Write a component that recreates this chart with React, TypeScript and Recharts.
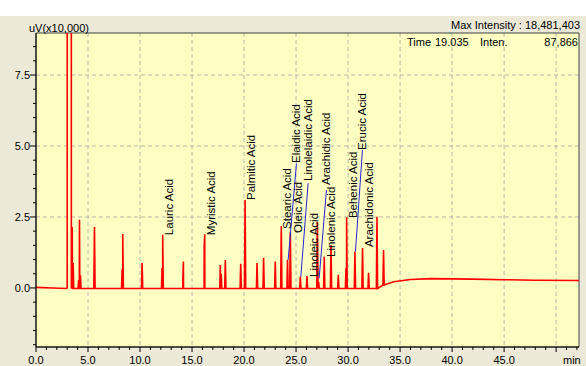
import React from 'react';
import { ComposedChart, Line, Scatter, XAxis, YAxis, CartesianGrid, ReferenceArea, ReferenceLine } from 'recharts';

// retention time (min) and height (uV x10,000) of each peak
const peakTimes = [3.48, 3.57, 4.1, 4.18, 4.27, 5.62, 8.28, 8.34, 10.2, 12.12, 12.18, 14.12, 14.17, 16.17, 16.22, 17.72, 17.8, 18.2, 19.68, 20.1, 21.25, 21.88, 23.0, 23.58, 24.18, 24.45, 25.41, 26.05, 27.05, 27.17, 27.71, 28.36, 29.06, 29.8, 29.86, 30.66, 31.39, 31.97, 32.78, 33.41];
const peakHeights = [2.15, 0.88, 0.28, 2.4, 0.45, 2.15, 0.65, 1.9, 0.88, 0.7, 1.87, 0.35, 0.93, 1.45, 1.89, 0.81, 0.5, 0.98, 0.85, 3.1, 0.88, 1.06, 0.93, 2.17, 0.99, 1.95, 0.4, 0.42, 2.33, 0.22, 1.1, 1.5, 0.46, 0.7, 2.49, 1.28, 1.41, 0.53, 2.51, 1.34];

// solvent front (off scale)
const solventTimes = [3.0, 3.05, 3.34, 3.4];
const solventValues = [0, 160, 160, 0];

// baseline drift
const baseTimes = [0, 1.6, 2.9, 33.6, 34.4, 36.0, 38.0, 40.0, 42.0, 45.0, 48.0, 52.2];
const baseValues = [0.02, 0.0, -0.02, 0.12, 0.22, 0.3, 0.33, 0.32, 0.31, 0.29, 0.27, 0.26];

const labelNames = ['Lauric Acid', 'Myristic Acid', 'Palmitic Acid', 'Stearic Acid', 'Oleic Acid', 'Elaidic Acid', 'Linolelaidic Acid', 'Linoleic Acid', 'Arachidic Acid', 'Linolenic Acid', 'Behenic Acid', 'Erucic Acid', 'Arachidonic Acid'];
const labelTimes = [12.82, 16.81, 20.7, 24.16, 25.17, 24.98, 26.13, 26.75, 27.9, 28.34, 30.5, 31.32, 32.04];
const labelValues = [1.86, 1.86, 3.1, 2.08, 1.94, 4.4, 3.77, 0.39, 3.63, 1.09, 2.46, 4.86, 1.44];

// leader lines [label end, peak end]
const leaders = [
  [[25.04, 4.39], [24.24, 0.99]],
  [[26.16, 3.69], [25.46, 0.4]],
  [[27.92, 3.45], [27.22, 0.34]],
  [[31.38, 4.86], [30.71, 1.28]],
];

const xTicks = Array.from({ length: 53 }, (_, i) => i);
const xLabels = [0, 5, 10, 15, 20, 25, 30, 35, 40, 45];
const yTicks = Array.from({ length: 22 }, (_, i) => -2 + i * 0.5);
const yLabels = [0, 2.5, 5, 7.5];

const X_DOMAIN: [number, number] = [0, 52.2];
const Y_DOMAIN: [number, number] = [-2.08, 8.98];
const PEAK_HALF = 0.06;

const trace: { t: number; v: number }[] = [];
baseTimes.forEach((t, i) => trace.push({ t, v: baseValues[i] }));
solventTimes.forEach((t, i) => trace.push({ t, v: solventValues[i] }));
peakTimes.forEach((t, i) => {
  const floor = t > 33 ? 0.1 : -0.02;
  trace.push({ t: t - PEAK_HALF, v: floor });
  trace.push({ t, v: peakHeights[i] });
  trace.push({ t: t + PEAK_HALF, v: floor });
});
trace.sort((a, b) => a.t - b.t);

const labelPoints = labelNames.map((name, i) => ({ t: labelTimes[i], v: labelValues[i], name }));

const FONT = '"Liberation Sans", Arial, sans-serif';

const XTick = (props: any) => {
  const { x, y, payload } = props;
  const major = payload.value % 5 === 0;
  return (
    <g>
      <line x1={x} y1={y} x2={x} y2={y + (major ? 5 : 3)} stroke="#000" />
      {xLabels.includes(payload.value) && (
        <text x={x} y={y + 17} textAnchor="middle" fontSize={11} fontFamily={FONT} fill="#000">
          {payload.value.toFixed(1)}
        </text>
      )}
    </g>
  );
};

const YTick = (props: any) => {
  const { x, y, payload } = props;
  const major = yLabels.includes(payload.value);
  return (
    <g>
      <line x1={x} y1={y} x2={x - (major ? 6 : 3)} y2={y} stroke="#000" />
      {major && (
        <text x={x - 6} y={y + 4} textAnchor="end" fontSize={11} fontFamily={FONT} fill="#000">
          {payload.value.toFixed(1)}
        </text>
      )}
    </g>
  );
};

const PeakLabel = (props: any) => {
  const { cx, cy, payload } = props;
  return (
    <text
      x={cx}
      y={cy}
      transform={`rotate(-90 ${cx} ${cy})`}
      textAnchor="start"
      dominantBaseline="central"
      fontSize={11.5}
      fontFamily={FONT}
      fill="#000"
    >
      {payload.name}
    </text>
  );
};

const textStyle: React.CSSProperties = { position: 'absolute', fontFamily: FONT, fontSize: 11, color: '#000', whiteSpace: 'nowrap', lineHeight: '12px' };

export default function App() {
  return (
    <div style={{ position: 'absolute', left: 0, top: 0, width: 586, height: 366, background: '#ece9d8' }}>
      <div style={{ position: 'absolute', left: 0, top: 0, width: 586, height: 16, background: '#fff' }} />
      <ComposedChart width={586} height={366} data={trace} margin={{ top: 33, right: 7, bottom: 0, left: 0 }}>
        <CartesianGrid
          fill="#ffffc4"
          stroke="#b8b8a8"
          strokeDasharray="4 3"
          verticalValues={[5, 10, 15, 20, 25, 30, 35, 40, 45, 50]}
          horizontalValues={[2.5, 5, 7.5]}
        />
        <XAxis
          dataKey="t"
          type="number"
          domain={X_DOMAIN}
          ticks={xTicks}
          interval={0}
          allowDataOverflow
          tick={XTick}
          tickLine={false}
          tickSize={0}
          tickMargin={0}
          height={19}
          axisLine={{ stroke: '#000' }}
        />
        <YAxis
          type="number"
          domain={Y_DOMAIN}
          ticks={yTicks}
          interval={0}
          allowDataOverflow
          tick={YTick}
          tickLine={false}
          tickSize={0}
          tickMargin={0}
          width={36}
          axisLine={{ stroke: '#000' }}
        />
        <ReferenceArea x1={X_DOMAIN[0]} x2={X_DOMAIN[1]} y1={Y_DOMAIN[0]} y2={Y_DOMAIN[1]} fill="none" stroke="#404040" />
        <Line dataKey="v" type="linear" stroke="#ff0000" strokeWidth={1.6} dot={false} isAnimationActive={false} />
        {leaders.map((seg, i) => (
          <ReferenceLine
            key={i}
            segment={[{ x: seg[0][0], y: seg[0][1] }, { x: seg[1][0], y: seg[1][1] }]}
            stroke="#2424d8"
            strokeWidth={1}
          />
        ))}
        <Scatter data={labelPoints} dataKey="v" shape={PeakLabel} isAnimationActive={false} />
      </ComposedChart>
      <div style={{ ...textStyle, left: 29, top: 22 }}>uV(x10,000)</div>
      <div style={{ ...textStyle, right: 6, top: 19 }}>Max Intensity : 18,481,403</div>
      <div style={{ ...textStyle, left: 407, top: 36 }}>Time</div>
      <div style={{ ...textStyle, left: 435, top: 36 }}>19.035</div>
      <div style={{ ...textStyle, left: 480, top: 36 }}>Inten.</div>
      <div style={{ ...textStyle, right: 8, top: 36 }}>87,866</div>
      <div style={{ ...textStyle, left: 563, top: 354 }}>min</div>
    </div>
  );
}
